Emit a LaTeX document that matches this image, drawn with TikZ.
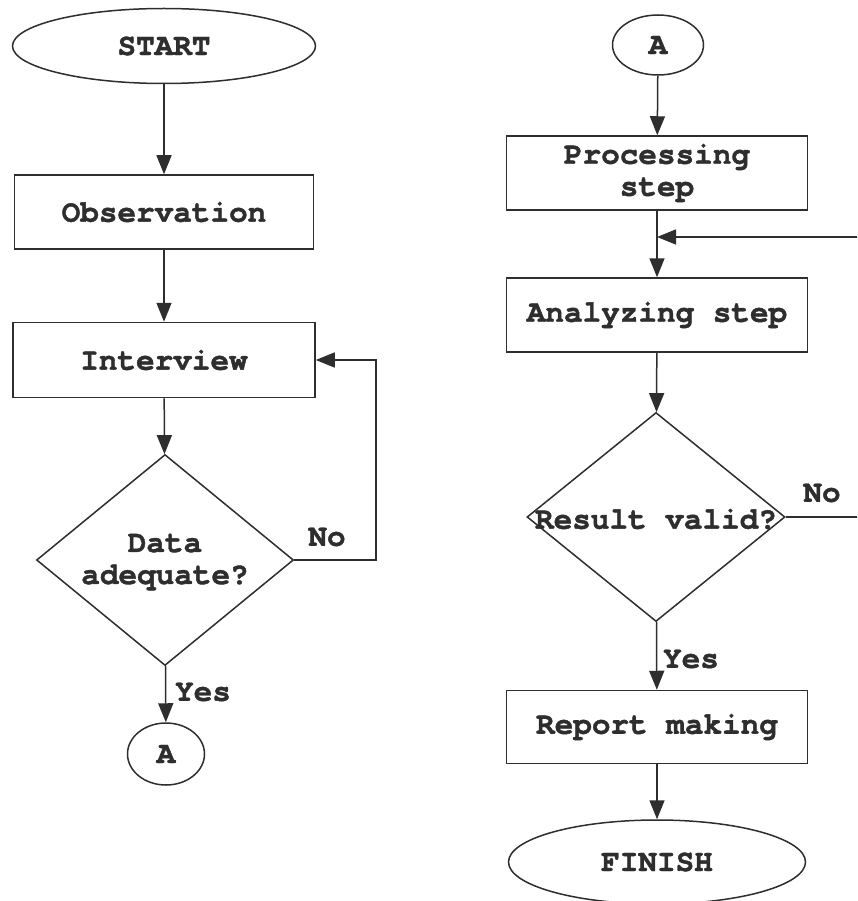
\documentclass[tikz,border=0pt]{standalone}
\usepackage{fontspec}
\setmonofont{texgyrecursor}[Extension=.otf, UprightFont=*-regular, BoldFont=*-bold, BoldFeatures={FakeBold=1.3}]
\usetikzlibrary{shapes.geometric,arrows.meta}
\definecolor{ink}{HTML}{2E2E2E}
\tikzset{
  every node/.style={font=\ttfamily\bfseries\fontsize{31}{32}\selectfont, text=ink},
  line/.style={draw=ink, line width=1.5pt},
  flowbox/.style={line, rectangle, minimum width=301pt, minimum height=74pt, inner sep=0pt, align=center},
  terminal/.style={line, ellipse, inner sep=0pt},
  decision/.style={line, diamond, inner sep=0pt},
  conn/.style={line, -{Triangle[length=19pt,width=15pt]}},
  lbl/.style={inner sep=0pt}
}
\begin{document}
\begin{tikzpicture}[x=1pt,y=-1pt]
\useasboundingbox (0,0) rectangle (857,901);
\clip (0,0) rectangle (857,901);
\fill[white] (0,0) rectangle (857,901);
% left column
\node[terminal, minimum width=303pt, minimum height=75pt] (start) at (164,46) {START};
\node[flowbox, minimum width=299pt] (obs) at (164,212) {Observation};
\node[flowbox, minimum width=302pt, minimum height=75pt] (intv) at (164,360) {Interview};
\node[decision, minimum width=257pt, minimum height=211pt] (dec1) at (165,560) {};
\node[lbl, align=center] (dec1t) at (165,562) {Data\\adequate?};
\node[terminal, minimum width=77pt, minimum height=62pt] (a1) at (166,754) {A};
\node[lbl] (no1) at (327,537) {No};
\node[lbl] (yes1) at (203,692) {Yes};
\coordinate (c1) at (376,560);
\coordinate (c2) at (376,360);
% right column
\node[terminal, minimum width=91pt, minimum height=60pt] (a2) at (658,45) {A};
\node[flowbox] (proc) at (657,173) {Processing\\step};
\node[flowbox] (anal) at (657,315) {Analyzing step};
\node[decision, minimum width=258pt, minimum height=209pt] (dec2) at (656,517) {};
\node[lbl] (dec2t) at (656,519) {Result valid?};
\node[flowbox, minimum height=73pt] (rep) at (657,727) {Report making};
\node[terminal, minimum width=297pt, minimum height=84pt] (fin) at (657,862) {FINISH};
\node[lbl] (no2) at (822,493) {No};
\node[lbl] (yes2) at (691,659) {Yes};
\coordinate (j) at (657,237);
\coordinate (r1) at (866,517);
\coordinate (r2) at (866,237);
% connectors
\draw[conn] (start) -- (obs);
\draw[conn] (obs) -- (intv);
\draw[conn] (intv) -- (dec1);
\draw[conn] (dec1.east) -- (c1) -- (c2) -- (intv.east);
\draw[conn] (dec1) -- (a1);
\draw[conn] (a2) -- (proc);
\draw[conn] (proc) -- (anal);
\draw[conn] (dec2.east) -- (r1) -- (r2) -- (j);
\draw[conn] (anal) -- (dec2);
\draw[conn] (dec2) -- (rep);
\draw[conn] (rep) -- (fin);
\end{tikzpicture}
\end{document}
